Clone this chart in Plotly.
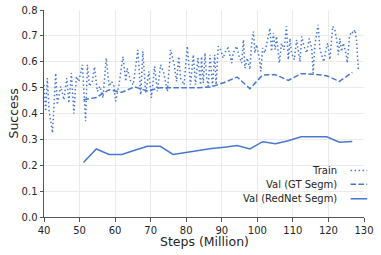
import plotly.graph_objects as go

# ---------------- data ----------------
train_steps = [40.0, 40.47, 40.94, 41.4, 42.4, 43.3, 43.75, 44.7, 45.6, 46.4, 47.0, 47.7, 48.4, 49.1,
               49.8, 50.3, 50.8, 51.7, 52.2, 52.8, 53.6, 54.2, 55.0, 55.7, 56.6, 57.5, 58.3, 59.0,
               59.7, 60.15, 61.1, 62.2, 63.0, 63.4, 64.4, 65.1, 66.4, 67.2, 67.8, 68.6, 69.5, 70.2,
               71.1, 71.9, 72.8, 73.7, 74.7, 75.6, 76.55, 77.3, 77.9, 78.4, 79.4, 80.3, 81.2, 82.0,
               82.6, 83.3, 84.05, 84.3, 84.8, 85.3, 85.7, 86.2, 86.7, 87.4, 88.0, 88.4, 89.0, 89.7,
               90.4, 91.2, 91.8, 92.8, 93.2, 94.2, 94.9, 95.6, 96.1, 96.5, 97.2, 97.9, 98.4, 98.9,
               99.3, 99.8, 100.55, 101.0, 101.5, 102.1, 103.55, 104.0, 104.5, 105.0, 105.4, 106.2,
               106.8, 107.5, 108.2, 108.7, 109.2, 109.6, 110.4, 111.05, 111.5, 112.0, 112.5, 113.1,
               113.9, 114.6, 115.3, 115.7, 116.2, 117.1, 117.6, 118.4, 118.7, 119.3, 119.8, 120.4,
               121.2, 121.8, 122.3, 122.8, 123.2, 123.7, 124.2, 124.9, 125.3, 125.9, 126.5, 127.0,
               127.45, 127.9, 128.4]
train_success = [0.511, 0.408, 0.537, 0.414, 0.325, 0.556, 0.434, 0.505, 0.453, 0.537, 0.44, 0.556,
                 0.40, 0.543, 0.524, 0.556, 0.588, 0.37, 0.588, 0.505, 0.524, 0.58, 0.485, 0.505,
                 0.46, 0.614, 0.505, 0.524, 0.505, 0.447, 0.511, 0.62, 0.524, 0.575, 0.524, 0.511,
                 0.646, 0.472, 0.64, 0.479, 0.563, 0.46, 0.582, 0.485, 0.588, 0.556, 0.485, 0.646,
                 0.595, 0.524, 0.62, 0.537, 0.511, 0.66, 0.511, 0.627, 0.511, 0.614, 0.511, 0.62,
                 0.518, 0.634, 0.543, 0.505, 0.627, 0.505, 0.627, 0.511, 0.66, 0.646, 0.614, 0.646,
                 0.653, 0.595, 0.634, 0.66, 0.62, 0.595, 0.685, 0.575, 0.614, 0.57, 0.672, 0.717,
                 0.634, 0.666, 0.614, 0.563, 0.653, 0.634, 0.73, 0.64, 0.71, 0.646, 0.698, 0.595,
                 0.672, 0.646, 0.737, 0.608, 0.69, 0.634, 0.608, 0.685, 0.634, 0.60, 0.698, 0.66,
                 0.634, 0.69, 0.653, 0.556, 0.666, 0.743, 0.646, 0.614, 0.60, 0.646, 0.672, 0.608,
                 0.737, 0.724, 0.685, 0.627, 0.69, 0.64, 0.672, 0.634, 0.595, 0.698, 0.717, 0.71,
                 0.724, 0.685, 0.57]

val_steps = [51.1, 54.7, 58.3, 61.9, 65.5, 69.1, 72.7, 76.3, 79.9, 83.5, 87.1, 90.7, 94.3, 97.9,
             101.5, 105.1, 108.7, 112.3, 115.9, 119.5, 123.1, 126.7]
val_gt = [0.453, 0.462, 0.492, 0.482, 0.503, 0.487, 0.50, 0.50, 0.50, 0.50, 0.503, 0.52, 0.541,
          0.496, 0.549, 0.55, 0.528, 0.554, 0.552, 0.546, 0.524, 0.559]
val_rednet = [0.211, 0.263, 0.242, 0.242, 0.258, 0.273, 0.273, 0.242, 0.249, 0.257, 0.265, 0.270,
              0.276, 0.263, 0.291, 0.283, 0.295, 0.310, 0.310, 0.310, 0.289, 0.292]

x_ticks = [40, 50, 60, 70, 80, 90, 100, 110, 120, 130]
y_ticks = [0.0, 0.1, 0.2, 0.3, 0.4, 0.5, 0.6, 0.7, 0.8]
legend_labels = ["Train", "Val (GT Segm)", "Val (RedNet Segm)"]

COLOR = "#4878CF"
DOT = "1.5px,2.5px"
DASH = "5.5px,2.4px"
FONT = "DejaVu Sans"
TXT = "#262626"

fig = go.Figure()
fig.add_trace(go.Scatter(x=train_steps, y=train_success, mode="lines", name=legend_labels[0],
                         line=dict(color=COLOR, width=1.5, dash=DOT)))
fig.add_trace(go.Scatter(x=val_steps, y=val_gt, mode="lines", name=legend_labels[1],
                         line=dict(color=COLOR, width=1.5, dash=DASH)))
fig.add_trace(go.Scatter(x=val_steps, y=val_rednet, mode="lines", name=legend_labels[2],
                         line=dict(color=COLOR, width=1.5)))

axis_common = dict(showgrid=True, gridcolor="#EBEBEB", gridwidth=1, zeroline=False,
                   showline=True, linecolor="#555555", linewidth=1, automargin=False,
                   ticks="outside", ticklen=3.5, tickcolor="#555555", tickwidth=1,
                   ticklabeloverflow="allow",
                   tickfont=dict(family=FONT, size=10, color=TXT))

fig.update_layout(
    template="none",
    width=381, height=255,
    margin=dict(l=44, r=17, t=10, b=38, pad=0),
    paper_bgcolor="white", plot_bgcolor="white",
    showlegend=False,
    xaxis=dict(range=[40, 130], tickvals=x_ticks, ticktext=[str(v) for v in x_ticks],
               **axis_common),
    yaxis=dict(range=[0, 0.8], tickvals=y_ticks, ticktext=[f"{v:.1f}" for v in y_ticks],
               **axis_common),
)

# axis titles
fig.add_annotation(x=0.5, y=0, xref="paper", yref="paper", text="Steps (Million)",
                   showarrow=False, xanchor="center", yanchor="middle", yshift=-24.5,
                   font=dict(family=FONT, size=12.5, color=TXT))
fig.add_annotation(x=0, y=0.5, xref="paper", yref="paper", text="Success", textangle=-90,
                   showarrow=False, xanchor="center", yanchor="middle", xshift=-31,
                   font=dict(family=FONT, size=12.5, color=TXT))

# manual legend (labels right-aligned, line sample on the right, like matplotlib markerfirst=False)
leg_y = [0.225, 0.158, 0.088]
dashes = [DOT, DASH, "solid"]
for lab, yy, dsh in zip(legend_labels, leg_y, dashes):
    fig.add_annotation(x=0.921, y=yy, xref="paper", yref="paper", text=lab, showarrow=False,
                       xanchor="right", yanchor="middle",
                       font=dict(family=FONT, size=10, color=TXT))
    fig.add_shape(type="line", xref="paper", yref="paper", x0=0.958, x1=1.01, y0=yy, y1=yy,
                  line=dict(color=COLOR, width=1.5, dash=dsh))

fig.write_html("out.html", config={"displayModeBar": False},
               post_script="document.body.style.margin='0';document.body.style.padding='0';"
                           "document.body.style.overflow='hidden';")
